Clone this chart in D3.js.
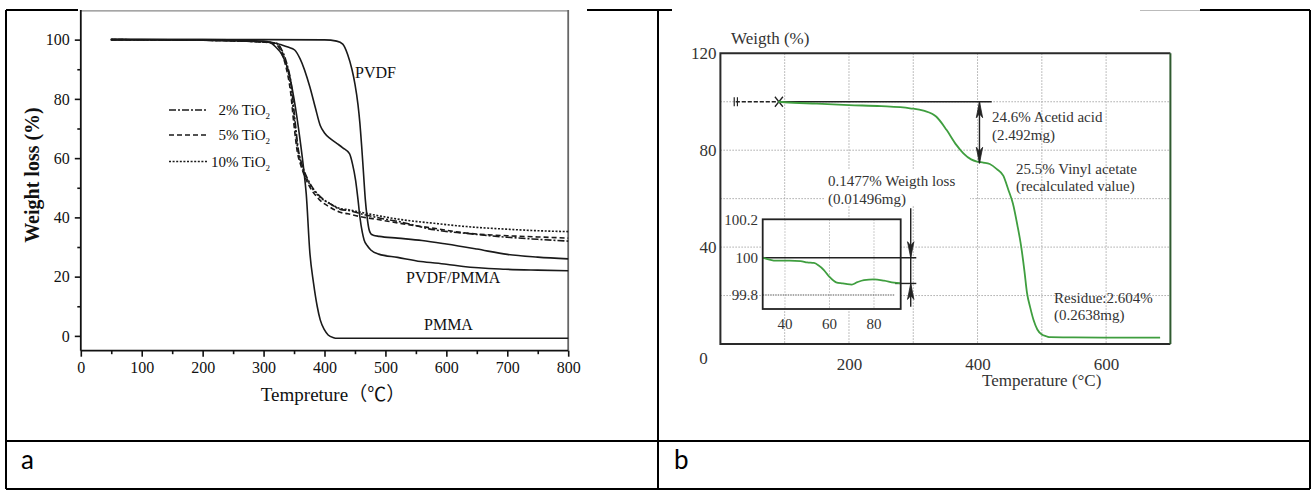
<!DOCTYPE html>
<html><head><meta charset="utf-8">
<script src="https://cdn.jsdelivr.net/npm/d3@7"></script>
<style>body{margin:0;background:#fff}svg{display:block}</style>
</head><body><svg id="c" width="1311" height="490"></svg>
<script>
// ---------- Panel a data (temperature °C, weight %) ----------
const pvdfT = [50,100,200,300,400,420,430,438,445,450,455,458,461,464,467,470,473,476,480,490,520,560,600,650,700,750,800];
const pvdfW = [100,100,100,100,99.9,99.5,98.5,95,90,85,78,72,64,55,46,40,36,34.5,34,33.6,33,32.2,31,29.3,27.5,26.6,26];
const blendT = [50,100,200,300,320,330,340,351,360,376,385,393,400,410,420,430,441,446,451,455,458,462,465,470,476,489,520,558,600,628,697,750,800];
const blendW = [100,100,99.8,99.3,98.8,98.2,97.5,96.5,93.5,84,77,71,68.5,66.5,65,63.5,61.5,58,52.6,46,40.3,35,32.4,30.5,29,27.6,26.5,25.1,24.2,23.4,22.5,22.2,22];
const pmmaT = [50,100,200,300,311,320,330,340,350,360,366,370,376,382,388,393,400,406,415,420,500,600,700,800];
const pmmaW = [100,100,100,99.5,99,97.5,95,90,80,66,56,48,28,17.8,10,5.4,2,0.3,-0.6,-0.8,-0.8,-0.8,-0.8,-0.8];
const tio2T = [50,200,300,321,330,338,346,351,357,362,366,376,393,410,426,440,458,490,524,580,633,700,750,800];
const tio2W2 = [100,99.8,99.2,98.8,96.5,92,84,74,63,58.5,56,51.5,47,44.5,42.7,42.3,41.3,39.8,38.5,35.8,34.6,33.3,32.6,32];
const tio2W5 = [100,99.8,99.2,98.6,96,91,82,72,62,58,55.5,50.8,46,43.5,41.8,41.2,40.3,39.2,38,36.3,34.7,33.8,33.4,33];
const tio2W10= [100,99.8,99.2,98.8,96.3,91.5,83,73,62.5,58.2,55.8,51.3,46.8,44.6,43,42.6,41.8,40.5,39.3,38,36.9,36,35.5,35.2];
const legendLabels = ["2% TiO", "5% TiO", "10% TiO"];
const xTicksA = [0,100,200,300,400,500,600,700,800];
const yTicksA = [0,20,40,60,80,100];

// ---------- Panel b data ----------
const tgaT = [90,100,150,200,250,295,316,336,352,367,378,390,399,409,419,430,440,448,455,462,468,473,477,482,487,493,500,507,513,550,600,650,684];
const tgaW = [100,99.8,99.2,98.6,98.2,97.3,96.3,93.8,88.3,82.2,78.7,76.2,75.3,74.9,74.3,72.2,69.5,63.6,58,49,40,30,21,15,10,6,3.9,3.2,2.8,2.7,2.65,2.6,2.6];
const insetT = [30,33,36,42,47,50,53,55,57.5,60,63,66,68,70,72.5,75.5,80,84.5,89,92];
const insetW = [100.0,99.99,99.984,99.984,99.982,99.975,99.972,99.96,99.934,99.897,99.868,99.862,99.858,99.856,99.869,99.88,99.884,99.877,99.866,99.862];
const xTicksB = [200,400,600];
const yTicksB = [120,80,40];
const xGridB = [100,200,300,400,500,600];
const yGridB = [20,40,60,80,100];
const insetXTicks = [40,60,80];
const insetYTicks = [100.2,100,99.8];

const svg = d3.select("#c");
const serif = "'Liberation Serif','Times New Roman',serif";

// ---------- table frame ----------
const tbl = svg.append("g").attr("stroke","#000").attr("stroke-width",2);
[[6,10,1310,10],[6,441,1310,441],[6,489,1310,489],[6,10,6,489],[658,10,658,489],[1310,10,1310,489]]
  .forEach(d=>tbl.append("line").attr("x1",d[0]).attr("y1",d[1]).attr("x2",d[2]).attr("y2",d[3]));
// pasted picture areas covering the top rule
svg.append("rect").attr("x",78).attr("y",8).attr("width",509).attr("height",420).attr("fill","#fff");
svg.append("rect").attr("x",672).attr("y",8).attr("width",528).attr("height",420).attr("fill","#fff");
svg.append("line").attr("x1",1140).attr("x2",1200).attr("y1",10.5).attr("y2",10.5).attr("stroke","#bbb").attr("stroke-width",1);

svg.append("text").attr("x",21).attr("y",469).attr("font-family","Lato,'Open Sans',sans-serif").attr("font-size",26).text("a");
svg.append("text").attr("x",674).attr("y",469).attr("font-family","Lato,'Open Sans',sans-serif").attr("font-size",26).text("b");

// ================= Panel a =================
const xa = d3.scaleLinear([0,800],[80.8,568.2]);
const ya = d3.scaleLinear([-5,110],[350.7,10]);
const ga = svg.append("g");
// frame
ga.append("line").attr("x1",xa(0)).attr("x2",xa(800)).attr("y1",10.8).attr("y2",10.8).attr("stroke","#888").attr("stroke-width",1.2);
ga.append("line").attr("x1",xa(800)).attr("x2",xa(800)).attr("y1",10).attr("y2",ya(-5)).attr("stroke","#666").attr("stroke-width",1.8);
ga.append("line").attr("x1",xa(0)).attr("x2",xa(0)).attr("y1",10).attr("y2",ya(-5)).attr("stroke","#111").attr("stroke-width",1.8);
ga.append("line").attr("x1",xa(0)).attr("x2",xa(800)).attr("y1",ya(-5)).attr("y2",ya(-5)).attr("stroke","#111").attr("stroke-width",1.8);

function styleAxis(g, fs){
  g.select(".domain").remove();
  g.selectAll(".tick line").attr("stroke","#111").attr("stroke-width",1.6);
  g.selectAll(".tick text").attr("font-family",serif).attr("font-size",fs).attr("fill","#111");
}
ga.append("g").attr("transform",`translate(0,${ya(-5)})`)
  .call(d3.axisBottom(xa).tickValues(xTicksA).tickSize(6).tickPadding(5).tickFormat(d3.format("d")))
  .call(g=>styleAxis(g,16));
ga.append("g").attr("transform",`translate(0,${ya(-5)})`)
  .call(d3.axisBottom(xa).tickValues(xTicksA.slice(0,-1).map(d=>d+50)).tickSize(3.5).tickFormat(""))
  .call(g=>styleAxis(g,16));
ga.append("g").attr("transform",`translate(${xa(0)},0)`)
  .call(d3.axisLeft(ya).tickValues(yTicksA).tickSize(6).tickPadding(5).tickFormat(d3.format("d")))
  .call(g=>styleAxis(g,16));
ga.append("g").attr("transform",`translate(${xa(0)},0)`)
  .call(d3.axisLeft(ya).tickValues(yTicksA.slice(0,-1).map(d=>d+10)).tickSize(3.5).tickFormat(""))
  .call(g=>styleAxis(g,16));

ga.append("text").attr("transform",`translate(39,175) rotate(-90)`).attr("text-anchor","middle")
  .attr("font-family",serif).attr("font-size",20).attr("font-weight","bold").attr("fill","#111").text("Weight loss (%)");
ga.append("text").attr("x",333).attr("y",401).attr("text-anchor","middle")
  .attr("font-family","'Liberation Serif','Noto Sans CJK SC',serif").attr("font-size",19).attr("fill","#111").text("Tempreture（℃）");

const lineA = d3.line().x(d=>xa(d[0])).y(d=>ya(d[1])).curve(d3.curveMonotoneX);
const seriesA = [
  {T:pvdfT,W:pvdfW,dash:null},
  {T:blendT,W:blendW,dash:null},
  {T:pmmaT,W:pmmaW,dash:null},
  {T:tio2T,W:tio2W2,dash:"7,2,2,2"},
  {T:tio2T.map(t=>t<450?t-1.5:t),W:tio2W5,dash:"5,3"},
  {T:tio2T.map(t=>t<450?t-0.5:t),W:tio2W10,dash:"2,1.6"}
];
seriesA.forEach(s=>{
  ga.append("path").datum(s.T.map((t,i)=>[t,s.W[i]])).attr("d",lineA)
    .attr("fill","none").attr("stroke","#1a1a1a").attr("stroke-width",1.6)
    .attr("stroke-dasharray",s.dash);
});
// legend
const legDash = ["7,2,2,2","5,3","2,1.6"];
const legY = [110,135,161.5];
legendLabels.forEach((lab,i)=>{
  ga.append("line").attr("x1",169).attr("x2",207).attr("y1",legY[i]).attr("y2",legY[i])
    .attr("stroke","#1a1a1a").attr("stroke-width",1.5).attr("stroke-dasharray",legDash[i]);
  const t = ga.append("text").attr("x",270).attr("y",legY[i]+5).attr("text-anchor","end")
    .attr("font-family",serif).attr("font-size",15).attr("fill","#111");
  t.append("tspan").text(lab);
  t.append("tspan").attr("font-size",9).attr("dy",4).text("2");
});
const labA = [["PVDF",355,78],["PVDF/PMMA",406,283],["PMMA",424,330]];
labA.forEach(l=>ga.append("text").attr("x",l[1]).attr("y",l[2]).attr("font-family",serif).attr("font-size",16).attr("fill","#111").text(l[0]));

// ================= Panel b =================
const xb = d3.scaleLinear([0,700],[720.4,1170.4]);
const yb = d3.scaleLinear([0,120],[344,53.3]);
const gb = svg.append("g");
const txt = "#333";
// grid
gb.selectAll(".vg").data(xGridB).join("line").attr("x1",d=>xb(d)).attr("x2",d=>xb(d)).attr("y1",yb(120)).attr("y2",yb(0))
  .attr("stroke","#aaa").attr("stroke-width",1).attr("stroke-dasharray","1.5,1.5");
gb.selectAll(".hg").data(yGridB).join("line").attr("x1",xb(0)).attr("x2",xb(700)).attr("y1",d=>yb(d)).attr("y2",d=>yb(d))
  .attr("stroke","#aaa").attr("stroke-width",1).attr("stroke-dasharray","1.5,1.5");
// white box behind the "0.1477%" note
gb.append("rect").attr("x",825).attr("y",170).attr("width",145).attr("height",36).attr("fill","#fff");
// frame
gb.append("path").attr("d",`M${xb(700)},${yb(120)}H${xb(0)}V${yb(0)}H${xb(700)}`).attr("fill","none").attr("stroke","#2a2a2a").attr("stroke-width",2);
gb.append("line").attr("x1",xb(700)).attr("x2",xb(700)).attr("y1",yb(120)).attr("y2",yb(0)).attr("stroke","#2f5a2f").attr("stroke-width",2);

const axB = gb.append("g").attr("transform",`translate(0,${yb(0)})`)
  .call(d3.axisBottom(xb).tickValues(xTicksB).tickSize(0).tickPadding(14).tickFormat(d3.format("d")));
axB.select(".domain").remove();
axB.selectAll("text").attr("font-family",serif).attr("font-size",17).attr("fill",txt);
const ayB = gb.append("g").attr("transform",`translate(${xb(0)},0)`)
  .call(d3.axisLeft(yb).tickValues(yTicksB).tickSize(0).tickPadding(4).tickFormat(d3.format("d")));
ayB.select(".domain").remove();
ayB.selectAll("text").attr("font-family",serif).attr("font-size",17).attr("fill",txt);
gb.append("text").attr("x",703.6).attr("y",364).attr("text-anchor","middle").attr("font-family",serif).attr("font-size",17).attr("fill",txt).text("0");
gb.append("text").attr("x",731).attr("y",44).attr("font-family",serif).attr("font-size",17).attr("fill",txt).text("Weigth (%)");
gb.append("text").attr("x",982).attr("y",386).attr("font-family",serif).attr("font-size",17).attr("fill",txt).text("Temperature (°C)");

// reference line, start markers
const startT = 24, markT = 91, refEndT = 422;
gb.append("line").attr("x1",xb(startT)).attr("x2",xb(markT)).attr("y1",yb(100)).attr("y2",yb(100)).attr("stroke","#222").attr("stroke-width",1.6).attr("stroke-dasharray","4,2");
gb.append("line").attr("x1",xb(markT)).attr("x2",xb(refEndT)).attr("y1",yb(100)).attr("y2",yb(100)).attr("stroke","#222").attr("stroke-width",1.6);
[-1.6,1.6].forEach(o=>gb.append("line").attr("x1",xb(startT)+o).attr("x2",xb(startT)+o).attr("y1",yb(100)-4.5).attr("y2",yb(100)+4.5).attr("stroke","#222").attr("stroke-width",1.2));
gb.append("path").attr("d",`M${xb(markT)-4},${yb(100)-5}L${xb(markT)+4},${yb(100)+5}M${xb(markT)-4},${yb(100)+5}L${xb(markT)+4},${yb(100)-5}`).attr("stroke","#222").attr("stroke-width",1.3);

// main curve
const lineB = d3.line().x(d=>xb(d[0])).y(d=>yb(d[1])).curve(d3.curveMonotoneX);
gb.append("path").datum(tgaT.map((t,i)=>[t,tgaW[i]])).attr("d",lineB).attr("fill","none").attr("stroke","#3f9e3f").attr("stroke-width",1.8);

// arrows
function arrowHead(g,x,yTip,dir){ // dir: -1 points up, 1 points down
  const L=16,w=3.2;
  g.append("path").attr("d",`M${x},${yTip}L${x-w},${yTip-dir*L}L${x},${yTip-dir*L*0.75}L${x+w},${yTip-dir*L}Z`).attr("fill","#222").attr("stroke","#222").attr("stroke-width",0.8);
}
const arrT = 403, arrTop = 100, arrBot = 74.6;
gb.append("line").attr("x1",xb(arrT)).attr("x2",xb(arrT)).attr("y1",yb(arrTop)).attr("y2",yb(arrBot)).attr("stroke","#222").attr("stroke-width",1.4);
arrowHead(gb,xb(arrT),yb(arrTop),-1);
arrowHead(gb,xb(arrT),yb(arrBot),1);

// annotations
const notes = [["24.6% Acetid acid",992,122],["(2.492mg)",992,140],["25.5% Vinyl acetate",1016,174],["(recalculated value)",1016,191],
  ["0.1477% Weigth loss",828,186],["(0.01496mg)",828,204],["Residue:2.604%",1054,303],["(0.2638mg)",1054,320]];
notes.forEach(n=>gb.append("text").attr("x",n[1]).attr("y",n[2]).attr("font-family",serif).attr("font-size",15).attr("fill",txt).text(n[0]));

// ---------- inset ----------
const xi = d3.scaleLinear([30,92],[762.7,900.7]);
const yi = d3.scaleLinear([99.725,100.206],[309,219.3]);
const gi = svg.append("g");
gi.append("rect").attr("x",xi(30)).attr("y",yi(100.206)).attr("width",xi(92)-xi(30)).attr("height",yi(99.725)-yi(100.206)).attr("fill","#fff");
gi.selectAll(".ig").data(insetXTicks).join("line").attr("x1",d=>xi(d)).attr("x2",d=>xi(d)).attr("y1",yi(100.206)).attr("y2",yi(99.725))
  .attr("stroke","#bbb").attr("stroke-width",1).attr("stroke-dasharray","1.5,1.5");
gi.append("line").attr("x1",xi(30)).attr("x2",xi(89.5)).attr("y1",yi(99.8)).attr("y2",yi(99.8)).attr("stroke","#555").attr("stroke-width",1.2).attr("stroke-dasharray","1.5,1");
gi.append("line").attr("x1",xi(30)).attr("x2",xi(99)).attr("y1",yi(100)).attr("y2",yi(100)).attr("stroke","#222").attr("stroke-width",1.4);
gi.append("line").attr("x1",xi(89.5)).attr("x2",xi(99)).attr("y1",yi(99.862)).attr("y2",yi(99.862)).attr("stroke","#222").attr("stroke-width",1.4);
gi.append("path").datum(insetT.map((t,i)=>[t,insetW[i]])).attr("d",d3.line().x(d=>xi(d[0])).y(d=>yi(d[1])).curve(d3.curveMonotoneX))
  .attr("fill","none").attr("stroke","#3f9e3f").attr("stroke-width",1.8);
gi.append("rect").attr("x",xi(30)).attr("y",yi(100.206)).attr("width",xi(92)-xi(30)).attr("height",yi(99.725)-yi(100.206)).attr("fill","none").attr("stroke","#222").attr("stroke-width",1.8);
const iArrT = 96.5;
gi.append("line").attr("x1",xi(iArrT)).attr("x2",xi(iArrT)).attr("y1",yi(100.265)).attr("y2",yi(99.737)).attr("stroke","#222").attr("stroke-width",1.4);
arrowHead(gi,xi(iArrT),yi(100),1);
arrowHead(gi,xi(iArrT),yi(99.862),-1);
insetYTicks.forEach(v=>gi.append("text").attr("x",758).attr("y",yi(v)+5).attr("text-anchor","end").attr("font-family",serif).attr("font-size",15).attr("fill",txt).text(v));
insetXTicks.forEach(v=>gi.append("text").attr("x",xi(v)).attr("y",329).attr("text-anchor","middle").attr("font-family",serif).attr("font-size",15).attr("fill",txt).text(v));
</script></body></html>
